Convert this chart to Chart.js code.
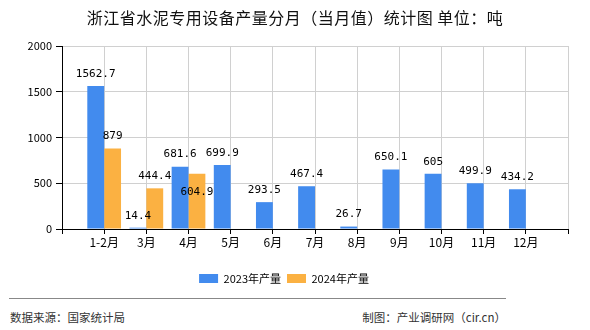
<!DOCTYPE html>
<html>
<head>
<meta charset="utf-8">
<script src="https://cdn.jsdelivr.net/npm/chart.js@4"></script>
<style>
  body { margin: 0; background: #fff; }
  #wrap { position: relative; width: 590px; height: 330px; font-family: "Noto Sans CJK SC", sans-serif; }
  #title { position: absolute; left: 0; top: 6px; width: 590px; text-align: center; font-size: 16px; letter-spacing: 0.5px; color: #111; line-height: 22px; }
  #c { position: absolute; left: 0; top: 0; }
  #line { position: absolute; left: 9px; top: 298px; width: 497px; height: 1px; background: #888; }
  .foot { position: absolute; top: 309px; font-size: 11.5px; color: #333; line-height: 16px; }
</style>
</head>
<body>
<div id="wrap">
  <canvas id="c" width="590" height="298"></canvas>
  <div id="title">浙江省水泥专用设备产量分月（当月值）统计图 单位：吨</div>
  <div id="line"></div>
  <div class="foot" style="left:10px">数据来源：国家统计局</div>
  <div class="foot" style="right:84px">制图：产业调研网（cir.cn）</div>
</div>
<script>
const months = ['1-2月', '3月', '4月', '5月', '6月', '7月', '8月', '9月', '10月', '11月', '12月'];
const prod2023 = [1562.7, 14.4, 681.6, 699.9, 293.5, 467.4, 26.7, 650.1, 605, 499.9, 434.2];
const prod2024 = [879, 444.4, 604.9, null, null, null, null, null, null, null, null];
const yTicks = [0, 500, 1000, 1500, 2000];

// empty slot at each end so the groups sit on the gridlines
const axisLabels = [''].concat(months, ['']);
const pad = arr => [null].concat(arr, [null]);

const valueLabels = {
  id: 'valueLabels',
  afterDatasetsDraw(chart) {
    const ctx = chart.ctx;
    ctx.save();
    ctx.font = '11px "DejaVu Sans Mono", monospace';
    ctx.fillStyle = '#000';
    ctx.textAlign = 'center';
    ctx.textBaseline = 'middle';
    const placed = [];
    chart.data.datasets.forEach((ds, i) => {
      chart.getDatasetMeta(i).data.forEach((bar, j) => {
        const v = ds.data[j];
        if (v == null) return;
        const txt = String(v);
        const w = ctx.measureText(txt).width;
        let y = bar.y - 12;
        const hit = r => Math.abs(r.x - bar.x) < (r.w + w) / 2 && Math.abs(r.y - y) < 12;
        if (placed.some(hit)) y = bar.y + 18;
        placed.push({ x: bar.x, y: y, w: w });
        ctx.fillText(txt, bar.x, y);
      });
    });
    ctx.restore();
  }
};

new Chart(document.getElementById('c'), {
  type: 'bar',
  data: {
    labels: axisLabels,
    datasets: [
      { label: '2023年产量', data: pad(prod2023), backgroundColor: '#428bee' },
      { label: '2024年产量', data: pad(prod2024), backgroundColor: '#fbb142' }
    ]
  },
  options: {
    responsive: false,
    animation: false,
    devicePixelRatio: 1,
    barPercentage: 1,
    categoryPercentage: 0.8,
    layout: { padding: { top: 46, right: 22, left: 0, bottom: 4 } },
    plugins: {
      title: { display: false },
      tooltip: { enabled: false },
      legend: {
        position: 'bottom',
        labels: {
          boxWidth: 19, boxHeight: 9, padding: 6, color: '#000',
          font: { family: '"Noto Sans CJK SC", sans-serif', size: 11 }
        }
      }
    },
    scales: {
      x: {
        offset: false,
        grid: { offset: false, color: '#d0d0d0', tickColor: '#000', tickLength: 5 },
        border: { color: '#000' },
        ticks: { autoSkip: false, maxRotation: 0, padding: 1, color: '#000',
          font: { family: '"Noto Sans CJK SC", sans-serif', size: 12 } },
        afterFit(s) { s.height = 38; }
      },
      y: {
        min: 0, max: 2000,
        afterBuildTicks(s) { s.ticks = yTicks.map(v => ({ value: v })); },
        grid: { color: '#d0d0d0', tickColor: '#000', tickLength: 6 },
        border: { color: '#000' },
        ticks: { padding: 4, color: '#000', callback: v => String(v),
          font: { family: '"Noto Sans CJK SC", sans-serif', size: 11 } },
        afterFit(s) { s.width = 62; }
      }
    }
  },
  plugins: [valueLabels]
});
</script>
</body>
</html>
